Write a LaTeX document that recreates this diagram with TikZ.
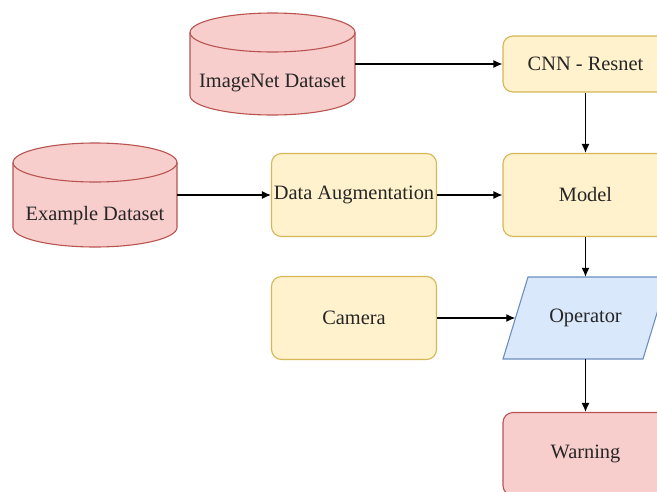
\documentclass[tikz,border=0pt]{standalone}
\usepackage{fontspec}
\setmainfont{Liberation Serif}
\usetikzlibrary{arrows.meta}
\definecolor{yelfill}{HTML}{FFF2CC}
\definecolor{yeldraw}{HTML}{D6B656}
\definecolor{redfill}{HTML}{F8CECC}
\definecolor{reddraw}{HTML}{B85450}
\definecolor{bluefill}{HTML}{DAE8FC}
\definecolor{bluedraw}{HTML}{6C8EBF}
\tikzset{
  stage/.style={rectangle,rounded corners=10pt,draw=yeldraw,fill=yelfill,line width=1.1pt,
    minimum width=165pt,minimum height=83pt,inner sep=0pt},
  place/.style={rectangle,inner sep=0pt,minimum width=165pt,minimum height=102pt},
  flow/.style={-{Latex[length=9pt,width=8pt]},line width=1.3pt}
}

\begin{document}
\begin{tikzpicture}[x=1pt,y=-1pt,font=\fontsize{20.4}{24}\selectfont,text=black!85]
                      \useasboundingbox (0,0) rectangle (657,491);
                      \clip (0,0) rectangle (657,491);
                      % the two datasets
                      \filldraw[draw=reddraw,fill=redfill,line width=1.1pt] (190,32.5) -- (190,95.5)
                        arc (180:0:82.5 and 19.5) -- (355,32.5) arc (0:-180:82.5 and 19.5) -- cycle;
                      \draw[reddraw,line width=1.1pt] (190,32.5) arc (180:0:82.5 and 19.5);
                      \node[place](imgnet)at(272.5,64){};
                      \node(imgnetlabel)at(272.5,83){ImageNet Dataset};
                      \filldraw[draw=reddraw,fill=redfill,line width=1.1pt] (13,162.5) -- (13,227.5)
                        arc (180:0:82 and 19.5) -- (177,162.5) arc (0:-180:82 and 19.5) -- cycle;
                      \draw[reddraw,line width=1.1pt] (13,162.5) arc (180:0:82 and 19.5);
                      \node[place,minimum width=164pt](example)at(95,195){};
                      \node(examplelabel)at(95,216){Example Dataset};
                      % boxes
                      \node[stage,minimum height=56pt](cnn)at(585.5,64){CNN - Resnet};
                      \node[stage](model)at(585.5,195){Model};
                      \node[stage](augment)at(354,195){Data Augmentation};
                      \node[stage](camera)at(354,318){Camera};
                      \filldraw[draw=bluedraw,fill=bluefill,line width=1.1pt]
                        (528,277) -- (668,277) -- (643,359) -- (503,359) -- cycle;
                      \node[rectangle,inner sep=0pt,minimum width=140pt,minimum height=82pt](oper)at(585.5,318){Operator};
                      \node[stage,draw=reddraw,fill=redfill](warn)at(585.5,454){Warning};
                      % connectors
                      \draw[flow] (imgnet) -- (cnn);
                      \draw[flow] (cnn) -- (model);
                      \draw[flow] (example) -- (augment);
                      \draw[flow] (augment) -- (model);
                      \draw[flow] (model) -- (oper);
                      \draw[flow] (camera) -- (oper);
                      \draw[flow] (oper) -- (warn);
                  \end{tikzpicture}
\end{document}
